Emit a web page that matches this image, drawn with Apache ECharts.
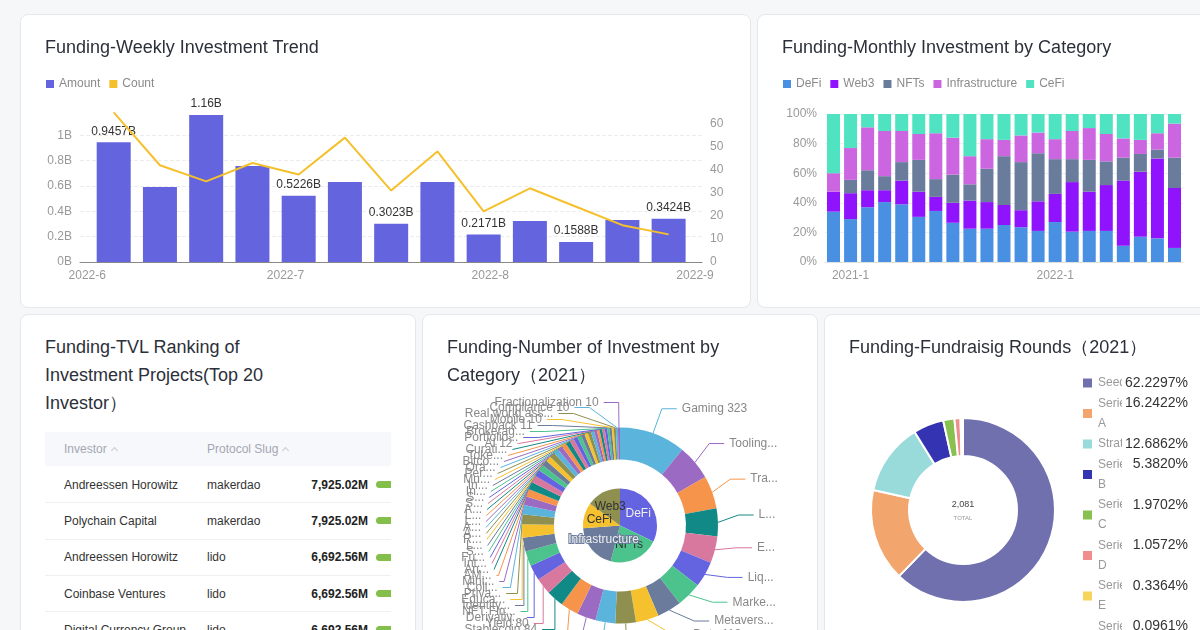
<!DOCTYPE html>
<html>
<head>
<meta charset="utf-8">
<title>Funding dashboard</title>
<script src="https://cdn.jsdelivr.net/npm/echarts@6/dist/echarts.min.js"></script>
<style>
html, body {
  margin: 0;
  padding: 0;
  width: 1200px;
  height: 630px;
  overflow: hidden;
  background: #f6f7f9;
  font-family: "Liberation Sans", Arial, sans-serif;
}
.card {
  position: absolute;
  background: #fff;
  border: 1px solid #e5e7eb;
  border-radius: 8px;
  box-sizing: border-box;
  overflow: hidden;
}
.title {
  position: absolute;
  left: 24px;
  top: 18px;
  font-size: 18px;
  line-height: 28px;
  color: #2c303a;
  z-index: 2;
}
.chart {
  position: absolute;
  left: 0;
  top: 0;
  width: 100%;
  height: 100%;
}
#c1 { left: 20px; top: 14px; width: 731px; height: 294px; }
#c2 { left: 757px; top: 14px; width: 470px; height: 294px; }
#c3 { left: 20px; top: 314px; width: 396px; height: 400px; }
#c4 { left: 422px; top: 314px; width: 396px; height: 400px; }
#c5 { left: 824px; top: 314px; width: 400px; height: 400px; }

.tbl-wrap {
  position: absolute;
  left: 24px;
  top: 117px;
  width: 346px;
  height: 240px;
  overflow: hidden;
}
table {
  border-collapse: collapse;
  table-layout: fixed;
  width: 431px;
  font-size: 12px;
}
th {
  height: 34px;
  background: #f7f8fb;
  color: #a3a7b3;
  font-weight: normal;
  text-align: left;
  padding: 0;
}
td {
  height: 35.3px;
  padding: 0;
  color: #333;
  border-bottom: 1px solid #eef0f3;
  white-space: nowrap;
}
tbody tr:first-child td { padding-top: 1px; }
.c-name { width: 162px; padding-left: 19px; box-sizing: border-box; }
.c-slug { width: 88px; }
.c-val { width: 73px; text-align: right; font-weight: bold; color: #222; }
.c-bar { width: 108px; padding-left: 8px; box-sizing: border-box; }
.bar {
  height: 7px;
  border-radius: 4px;
  background: #84be4b;
}
.caret {
  display: inline-block;
  width: 4px;
  height: 4px;
  border-left: 1px solid #c8cbd3;
  border-top: 1px solid #c8cbd3;
  transform: rotate(45deg);
  margin-left: 5px;
}
</style>
</head>
<body>

<div class="card" id="c1">
  <div class="title">Funding-Weekly Investment Trend</div>
  <div class="chart" id="chart1"></div>
</div>

<div class="card" id="c2">
  <div class="title">Funding-Monthly Investment by Category</div>
  <div class="chart" id="chart2"></div>
</div>

<div class="card" id="c3">
  <div class="title" style="width:255px">Funding-TVL Ranking of Investment Projects(Top 20 Investor）</div>
  <div class="tbl-wrap">
    <table>
      <thead>
        <tr>
          <th class="c-name">Investor<span class="caret"></span></th>
          <th class="c-slug">Protocol Slug<span class="caret"></span></th>
          <th class="c-val"></th>
          <th class="c-bar"></th>
        </tr>
      </thead>
      <tbody id="tvlBody"></tbody>
    </table>
  </div>
</div>

<div class="card" id="c4">
  <div class="title" style="width:330px">Funding-Number of Investment by Category（2021）</div>
  <div class="chart" id="chart4"></div>
</div>

<div class="card" id="c5">
  <div class="title">Funding-Fundraisig Rounds（2021）</div>
  <div class="chart" id="chart5"></div>
</div>

<script>
// ---------- weekly trend ----------
const weeks = ['2022-06-05', '2022-06-12', '2022-06-19', '2022-06-26', '2022-07-03', '2022-07-10', '2022-07-17',
  '2022-07-24', '2022-07-31', '2022-08-07', '2022-08-14', '2022-08-21', '2022-08-28'];
const weeklyAmount = [0.9457, 0.592, 1.16, 0.758, 0.5226, 0.631, 0.3023, 0.631, 0.2171, 0.324, 0.1588, 0.331, 0.3424]; // B
const weeklyCount = [65, 42, 35, 43, 38, 54, 31, 48, 22, 32, 24, 16, 12];

// ---------- monthly by category (share, %) ----------
const months = ['2020-12', '2021-1', '2021-2', '2021-3', '2021-4', '2021-5', '2021-6', '2021-7', '2021-8', '2021-9',
  '2021-10', '2021-11', '2021-12', '2022-1', '2022-2', '2022-3', '2022-4', '2022-5', '2022-6', '2022-7', '2022-8'];
const catDeFi = [34, 29, 37, 40.5, 39, 30.5, 34.5, 26.5, 22.5, 22.5, 25, 23.5, 21, 27, 20.5, 21, 21, 11, 17, 16, 9.5];
const catWeb3 = [13.5, 17.5, 11.5, 8, 16, 17, 9.5, 13.5, 19, 18, 13.5, 11.5, 20, 19, 33.5, 26.5, 31, 44, 44, 54, 40.5];
const catNFTs = [0, 9, 13.5, 9.5, 12.5, 21.5, 12, 19, 11, 22.5, 33, 32.5, 32.5, 23.5, 15.5, 21.5, 16, 15.5, 12, 6, 20.5];
const catInfra = [12.5, 21.5, 29, 30.5, 21, 17.5, 31, 25, 19, 20, 11, 18, 14, 13.5, 19, 21.5, 18.5, 13, 9.5, 11, 23];
const catCeFi = [40, 23, 9, 11.5, 11.5, 13.5, 13, 16, 28.5, 17, 17.5, 14.5, 12.5, 17, 11.5, 9.5, 13.5, 16.5, 17.5, 13, 6.5];

// ---------- TVL ranking ----------
const tvlInvestors = ['Andreessen Horowitz', 'Polychain Capital', 'Andreessen Horowitz', 'Coinbase Ventures', 'Digital Currency Group'];
const tvlSlugs = ['makerdao', 'makerdao', 'lido', 'lido', 'lido'];
const tvlValues = [7925.02, 7925.02, 6692.56, 6692.56, 6692.56]; // M

// ---------- number of investment by category 2021 ----------
const groupNames = ['DeFi', 'NFTs', 'Infrastructure', 'CeFi', 'Web3'];
const groupCounts = [950, 650, 585, 330, 445];
const subNames = ['Gaming', 'Tooling', 'Trading', 'Lending', 'Exchange', 'Liquid Staking', 'Marketplace', 'Metaverse', 'Data',
  'Wallet', 'Payments', 'DAO', 'Social', 'Stablecoin', 'Yield', 'Derivatives', 'NFT Finance', 'Identity', 'Education',
  'Privacy', 'Collectibles', 'Mining', 'AMM', 'Analytics', 'Interoperability', 'Fundraising', 'Scaling', 'Launchpad',
  'Risk Management', 'Asset Management', 'Aggregator', 'Layer 2', 'Lottery', 'Accelerator', 'Storage', 'Security',
  'Insurance', 'Index', 'Music', 'Perpetuals', 'Oracle', 'Bitcoin', 'Tokenization', 'Curation', 'AI', 'Portfolio',
  'Brokerage', 'Cashback', 'Mobile', 'Real world assets', 'Compliance', 'Fractionalization'];
const subCounts = [323, 172, 160, 135, 130, 126, 122, 118, 112,
  100, 96, 92, 88, 84, 80, 76, 72, 68, 64,
  49, 45, 41, 38, 36, 34, 32, 30, 28,
  27, 26, 25, 24, 23, 22, 21, 20,
  19, 18, 17, 16, 15, 14, 13, 13, 12, 12,
  11, 11, 10, 10, 10, 10];

// ---------- fundraising rounds 2021 ----------
const roundNames = ['Seed', 'Series A', 'Strategic', 'Series B', 'Series C', 'Series D', 'Series E', 'Series F'];
const roundCounts = [1295, 338, 264, 112, 41, 22, 7, 2];
const roundColors = ['#7070ae', '#f2a66e', '#99dada', '#3434b2', '#88c14f', '#f08d8d', '#f6d55c', '#c9a0dc'];

const FONT = '"Liberation Sans", Arial, sans-serif';
const pieColors = ['#6464e0', '#4cc38c', '#6b7b9c', '#f5c12e', '#8f8f4f', '#5ab4dc', '#9b6bc4', '#f5944a', '#118a87', '#d8789f'];

// chart 1
const chart1 = echarts.init(document.getElementById('chart1'));
chart1.setOption({
  textStyle: { fontFamily: FONT },
  animation: false,
  legend: {
    left: 20,
    top: 58,
    icon: 'rect',
    itemWidth: 8,
    itemHeight: 8,
    itemGap: 9,
    textStyle: { color: '#8a8a8a', fontSize: 12 },
    data: ['Amount', 'Count']
  },
  grid: { left: 59, top: 95, width: 622, height: 152 },
  xAxis: {
    type: 'time',
    // the bar overflow padding widens this range a little
    min: '2022-06-02 11:20:00',
    max: '2022-08-30 11:30:00',
    splitNumber: 3,
    minInterval: 28 * 24 * 3600 * 1000,
    axisLine: { lineStyle: { color: '#888' } },
    axisTick: { show: false },
    splitLine: { show: false },
    axisLabel: {
      color: '#999',
      fontSize: 12,
      margin: 8,
      formatter: function (v) {
        const d = new Date(v);
        if (d.getDate() !== 1 || d.getHours() !== 0) return '';
        return d.getFullYear() + '-' + (d.getMonth() + 1);
      }
    }
  },
  yAxis: [
    {
      type: 'value',
      min: 0,
      max: 1.2,
      interval: 0.2,
      axisLine: { show: false },
      axisTick: { show: false },
      axisLabel: {
        color: '#999',
        fontSize: 12,
        showMaxLabel: false,
        formatter: v => (+v.toFixed(1)) + 'B'
      },
      splitLine: { showMaxLine: false, lineStyle: { type: 'dashed', color: '#ececec' } }
    },
    {
      type: 'value',
      min: 0,
      max: 66,
      interval: 10,
      axisLine: { show: false },
      axisTick: { show: false },
      axisLabel: { color: '#999', fontSize: 12, showMaxLabel: false },
      splitLine: { show: false }
    }
  ],
  series: [
    {
      name: 'Amount',
      type: 'bar',
      barWidth: 34,
      itemStyle: { color: '#6464de' },
      label: {
        position: 'top',
        color: '#333',
        fontSize: 12,
        formatter: p => p.value[1] + 'B'
      },
      data: weeks.map((w, i) => ({ value: [w, weeklyAmount[i]], label: { show: i % 2 === 0 } }))
    },
    {
      name: 'Count',
      type: 'line',
      yAxisIndex: 1,
      showSymbol: false,
      symbol: 'none',
      lineStyle: { color: '#f5c02c', width: 2 },
      itemStyle: { color: '#f5c02c' },
      data: weeks.map((w, i) => [w, weeklyCount[i]])
    }
  ]
});

// chart 2
const chart2 = echarts.init(document.getElementById('chart2'));
const catSeries = [
  ['DeFi', catDeFi, '#4a90e2'],
  ['Web3', catWeb3, '#9013fe'],
  ['NFTs', catNFTs, '#6a7c9c'],
  ['Infrastructure', catInfra, '#cc66e0'],
  ['CeFi', catCeFi, '#50e3c2']
];
chart2.setOption({
  textStyle: { fontFamily: FONT },
  animation: false,
  legend: {
    left: 20,
    top: 58,
    icon: 'rect',
    itemWidth: 8,
    itemHeight: 8,
    itemGap: 9,
    textStyle: { color: '#8a8a8a', fontSize: 12 }
  },
  grid: { left: 67, top: 99, width: 358, height: 148 },
  xAxis: {
    type: 'category',
    data: months,
    axisLine: { lineStyle: { color: '#e0e0e0' } },
    axisTick: { show: false },
    axisLabel: {
      color: '#999',
      fontSize: 12,
      interval: (i, v) => v.split('-')[1] === '1'
    }
  },
  yAxis: {
    type: 'value',
    min: 0,
    max: 100,
    interval: 20,
    axisLine: { show: false },
    axisTick: { show: false },
    axisLabel: { color: '#999', fontSize: 12, formatter: '{value}%' },
    splitLine: { lineStyle: { color: '#eeeeee' } }
  },
  series: catSeries.map(s => ({
    name: s[0],
    type: 'bar',
    stack: 'share',
    barWidth: 13,
    itemStyle: { color: s[2] },
    data: s[1]
  }))
});

// table
const maxTvl = Math.max(...tvlValues);
document.getElementById('tvlBody').innerHTML = tvlInvestors.map((name, i) =>
  '<tr><td class="c-name">' + name + '</td><td class="c-slug">' + tvlSlugs[i] + '</td>' +
  '<td class="c-val">' + tvlValues[i].toLocaleString('en-US', { minimumFractionDigits: 2, maximumFractionDigits: 2 }) + 'M</td>' +
  '<td class="c-bar"><div class="bar" style="width:' + (tvlValues[i] / maxTvl * 100) + '%"></div></td></tr>'
).join('');

// chart 4
const chart4 = echarts.init(document.getElementById('chart4'));
chart4.setOption({
  textStyle: { fontFamily: FONT },
  animation: false,
  series: [
    {
      type: 'pie',
      left: 27,
      top: 80,
      width: 340,
      height: 261,
      radius: [0, 37],
      startAngle: 90,
      label: { position: 'inner', fontSize: 12, overflow: 'none' },
      labelLine: { show: false },
      labelLayout: { hideOverlap: false },
      data: groupNames.map((n, i) => ({ name: n, value: groupCounts[i], itemStyle: { color: pieColors[i % 10] } }))
    },
    {
      type: 'pie',
      left: 27,
      top: 80,
      width: 340,
      height: 261,
      radius: [66, 98],
      startAngle: 90,
      label: { color: '#888', fontSize: 12, formatter: '{b} {c}' },
      labelLine: { length: 26, length2: 15 },
      labelLayout: { hideOverlap: false },
      data: subNames.map((n, i) => ({ name: n, value: subCounts[i], itemStyle: { color: pieColors[(i + 5) % 10] } }))
    }
  ]
});

// chart 5
const chart5 = echarts.init(document.getElementById('chart5'));
const roundTotal = roundCounts.reduce((a, b) => a + b, 0);
chart5.setOption({
  textStyle: { fontFamily: FONT },
  animation: false,
  legend: {
    orient: 'vertical',
    left: 251,
    top: 53,
    height: 340,
    icon: 'rect',
    itemWidth: 11,
    itemHeight: 11,
    itemGap: 0.5,
    formatter: function (name) {
      const i = roundNames.indexOf(name);
      const pct = (roundCounts[i] / roundTotal * 100).toFixed(4) + '%';
      const parts = name.split(' ');
      let s = '{n|' + parts[0] + '}{v|' + pct + '}';
      if (parts.length > 1) s += '\n{n|' + parts.slice(1).join(' ') + '}';
      return s;
    },
    textStyle: {
      lineHeight: 20,
      rich: {
        n: { width: 24, color: '#999', fontSize: 12, lineHeight: 20 },
        v: { width: 66, align: 'right', color: '#333', fontSize: 14, lineHeight: 20, backgroundColor: '#fff' }
      }
    }
  },
  graphic: [
    { type: 'text', x: 138, y: 190, style: { text: roundTotal.toLocaleString('en-US'), fill: '#444', font: '9px ' + FONT, align: 'center', verticalAlign: 'middle' } },
    { type: 'text', x: 138, y: 203, style: { text: 'TOTAL', fill: '#999', font: '6px ' + FONT, align: 'center', verticalAlign: 'middle' } }
  ],
  series: [
    {
      type: 'pie',
      center: [138, 195],
      radius: [54, 92],
      startAngle: 90,
      label: { show: false },
      labelLine: { show: false },
      itemStyle: { borderColor: '#fff', borderWidth: 2 },
      data: roundNames.map((n, i) => ({ name: n, value: roundCounts[i], itemStyle: { color: roundColors[i] } }))
    }
  ]
});
</script>
</body>
</html>
